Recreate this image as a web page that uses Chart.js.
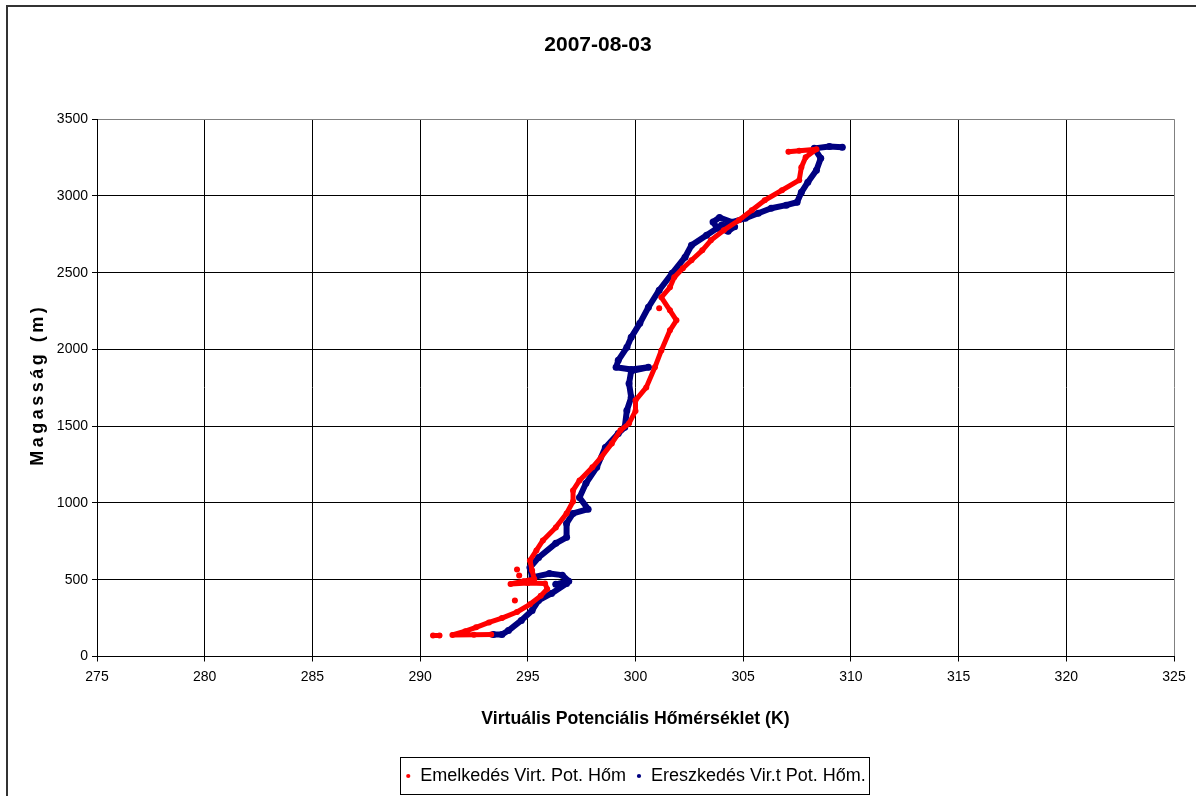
<!DOCTYPE html>
<html><head><meta charset="utf-8">
<script src="https://cdn.jsdelivr.net/npm/chart.js@4/dist/chart.umd.min.js"></script>
<style>html,body{margin:0;padding:0;background:#fff;}canvas{display:block}</style>
</head><body>
<canvas id="c" width="1196" height="796"></canvas>
<script>
const xTickValues = [275, 280, 285, 290, 295, 300, 305, 310, 315, 320, 325];
const yTickValues = [0, 500, 1000, 1500, 2000, 2500, 3000, 3500];

// Emelkedés (ascending) – null breaks separate isolated dots
const riseTemp = [293.3, 292.5, 291.5, 292.1, 292.6, 293.2, 293.8, 294.5, 295.1, 295.6, 295.9, 295.8, 295.0, 294.2, 294.8, 295.3, 295.2, 295.1, 295.4, 295.7, 296.3, 296.8, 297.1, 297.1, 297.4, 298.0, 298.4, 298.9, 299.3, 299.7, 300.0, 300.0, 300.5, 300.9, 301.2, 301.6, 301.9, 301.6, 301.2, 301.6, 301.8, 302.2, 302.6, 303.1, 303.5, 304.1, 304.8, 305.4, 306.0, 306.8, 307.6, 307.7, 307.9, 308.4, 307.6, 307.1, null, 290.6, 290.9, null, 294.5, null, 294.6, null, 294.4, null, 301.1];
const riseHeight = [143, 141, 140, 165, 190, 222, 250, 290, 340, 395, 440, 476, 478, 472, 490, 505, 560, 626, 691, 756, 841, 932, 1010, 1082, 1147, 1232, 1297, 1388, 1473, 1519, 1600, 1669, 1753, 1884, 1994, 2125, 2190, 2255, 2340, 2405, 2470, 2529, 2581, 2646, 2711, 2777, 2842, 2907, 2972, 3037, 3103, 3187, 3252, 3305, 3295, 3288, null, 136, 137, null, 567, null, 528, null, 365, null, 2268];

// Ereszkedés (descending)
const descTemp = [309.6, 309.0, 308.3, 308.6, 308.4, 308.0, 307.7, 307.5, 307.0, 306.3, 305.7, 305.1, 304.5, 303.9, 303.6, 303.8, 304.3, 304.6, 304.0, 303.3, 302.6, 302.3, 301.7, 301.1, 300.6, 300.2, 299.8, 299.6, 299.2, 299.1, 299.8, 300.6, 299.8, 299.7, 299.8, 299.6, 299.5, 299.2, 298.6, 298.2, 297.7, 297.4, 297.8, 297.1, 296.8, 296.8, 296.3, 295.5, 295.1, 295.2, 296.0, 296.6, 296.9, 296.3, 296.8, 296.1, 295.5, 295.2, 294.7, 294.1, 293.8, 293.4];
const descHeight = [3318, 3322, 3310, 3246, 3168, 3090, 3024, 2959, 2940, 2920, 2887, 2855, 2829, 2860, 2830, 2790, 2770, 2800, 2810, 2744, 2679, 2601, 2496, 2386, 2275, 2170, 2079, 2014, 1929, 1884, 1870, 1884, 1860, 1779, 1688, 1603, 1493, 1453, 1362, 1232, 1128, 1036, 960, 932, 867, 776, 737, 645, 580, 515, 540, 530, 490, 470, 476, 411, 365, 300, 235, 169, 143, 143];

const seriesNames = ['Emelkedés Virt. Pot. Hőm', 'Ereszkedés Vir.t Pot. Hőm.'];
const chartTitle = '2007-08-03';
const xTitle = 'Virtuális Potenciális Hőmérséklet (K)';
const yTitle = 'Magasság (m)';

function toPoints(xs, ys) { return xs.map((x, i) => ({ x: x, y: ys[i] })); }

const FONT = "'Liberation Sans', Arial, sans-serif";

const framePlugin = {
  id: 'frame',
  beforeDraw(chart) {
    const ctx = chart.ctx;
    ctx.save();
    ctx.fillStyle = '#fff';
    ctx.fillRect(0, 0, chart.width, chart.height);
    ctx.strokeStyle = '#333';
    ctx.lineWidth = 2;
    ctx.beginPath();
    ctx.moveTo(1196, 6);
    ctx.lineTo(7, 6);
    ctx.lineTo(7, 796);
    ctx.stroke();
    ctx.restore();
  },
  afterDraw(chart) {
    const ctx = chart.ctx;
    // y axis title with letter spacing, centred on the y scale
    const ys = chart.scales.y;
    ctx.save();
    ctx.translate(38, (ys.top + ys.bottom) / 2 - 3);
    ctx.rotate(-Math.PI / 2);
    ctx.font = "bold 18px " + FONT;
    ctx.letterSpacing = '3.5px';
    ctx.fillStyle = '#000';
    ctx.textAlign = 'center';
    ctx.textBaseline = 'middle';
    ctx.fillText(yTitle, 0, 0);
    ctx.restore();

    const lg = chart.legend;
    if (!lg || !lg.legendHitBoxes || !lg.legendHitBoxes.length) return;
    const hb = lg.legendHitBoxes;
    let l = Infinity, r = -Infinity, t = Infinity, b = -Infinity;
    hb.forEach(h => { l = Math.min(l, h.left); r = Math.max(r, h.left + h.width); t = Math.min(t, h.top); b = Math.max(b, h.top + h.height); });
    ctx.save();
    ctx.strokeStyle = '#000';
    ctx.lineWidth = 1;
    ctx.strokeRect(Math.round(l - 5) + 0.5, Math.round(t - 10) + 0.5, Math.round(r - l + 9), Math.round(b - t + 19));
    ctx.restore();
  }
};

new Chart(document.getElementById('c'), {
  type: 'scatter',
  data: {
    datasets: [
      {
        label: seriesNames[0],
        data: toPoints(riseTemp, riseHeight),
        showLine: true, spanGaps: false,
        borderColor: '#ff0000', backgroundColor: '#ff0000',
        borderWidth: 5, borderJoinStyle: 'round', borderCapStyle: 'round',
        pointRadius: 3, pointBorderWidth: 0, pointHoverRadius: 3
      },
      {
        label: seriesNames[1],
        data: toPoints(descTemp, descHeight),
        showLine: true, spanGaps: false,
        borderColor: '#000080', backgroundColor: '#000080',
        borderWidth: 6, borderJoinStyle: 'round', borderCapStyle: 'round',
        pointRadius: 3.5, pointBorderWidth: 0, pointHoverRadius: 3.5
      }
    ]
  },
  options: {
    responsive: false,
    animation: false,
    layout: { padding: { left: 22, right: 22, top: 0, bottom: 1 } },
    plugins: {
      tooltip: { enabled: false },
      title: {
        display: true, text: chartTitle, color: '#000',
        font: { family: FONT, size: 21, weight: 'bold' },
        padding: { top: 33, bottom: 61 }
      },
      legend: {
        position: 'bottom', fullSize: false,
        labels: {
          color: '#000', font: { family: FONT, size: 18 },
          usePointStyle: true, pointStyle: 'circle', boxWidth: 6, boxHeight: 3, padding: 10,
          generateLabels(chart) {
            const items = Chart.defaults.plugins.legend.labels.generateLabels(chart);
            items.forEach(it => { it.lineWidth = 0; });
            return items;
          }
        }
      }
    },
    scales: {
      x: {
        type: 'linear', min: 275, max: 325,
        afterBuildTicks(scale) { scale.ticks = xTickValues.map(v => ({ value: v })); },
        afterFit(scale) { scale.height = 100.5; },
        grid: {
          color: ctx => ctx.index === xTickValues.length - 1 ? '#808080' : '#000',
          lineWidth: 1, tickLength: 5, drawTicks: true, tickColor: '#000'
        },
        border: { color: '#000', width: 1 },
        ticks: { color: '#000', font: { family: FONT, size: 14 }, padding: 7, maxRotation: 0, autoSkip: false, callback: v => String(v) },
        title: { display: true, text: xTitle, color: '#000', font: { family: FONT, size: 17.7, weight: 'bold' }, padding: { top: 0, bottom: 27 } }
      },
      y: {
        type: 'linear', min: 0, max: 3500,
        afterBuildTicks(scale) { scale.ticks = yTickValues.map(v => ({ value: v })); },
        afterFit(scale) { scale.width = 75; },
        grid: {
          color: ctx => ctx.index === yTickValues.length - 1 ? '#808080' : '#000',
          lineWidth: 1, tickLength: 5, drawTicks: true, tickColor: '#000'
        },
        border: { color: '#000', width: 1 },
        ticks: { color: '#000', font: { family: FONT, size: 14 }, padding: 4, autoSkip: false, callback: v => String(v) },
        title: { display: false }
      }
    }
  },
  plugins: [framePlugin]
});
</script>
</body></html>
